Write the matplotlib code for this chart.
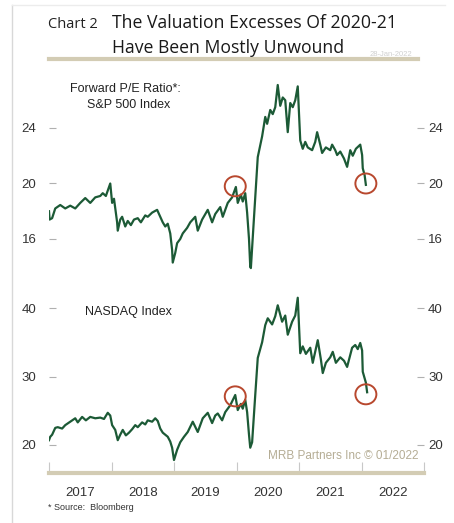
import matplotlib
matplotlib.use("Agg")
import matplotlib.pyplot as plt
from matplotlib.patches import Ellipse
import numpy as np

# -----------------------------
# Data (decimal year, value)
# -----------------------------
spYears = [
    2017.00, 2017.01, 2017.05, 2017.10, 2017.18, 2017.26, 2017.34, 2017.42, 2017.50, 2017.58,
    2017.66, 2017.74, 2017.82, 2017.86, 2017.91, 2017.98, 2018.01, 2018.04, 2018.09, 2018.10,
    2018.14, 2018.17, 2018.22, 2018.26, 2018.31, 2018.36, 2018.42, 2018.47, 2018.54, 2018.58,
    2018.65, 2018.73, 2018.78, 2018.82, 2018.86, 2018.90, 2018.94, 2018.97, 2018.98, 2019.02,
    2019.05, 2019.10, 2019.14, 2019.21, 2019.26, 2019.34, 2019.38, 2019.45, 2019.54, 2019.61,
    2019.66, 2019.74, 2019.78, 2019.86, 2019.93, 2019.99, 2020.02, 2020.07, 2020.10, 2020.14,
    2020.17, 2020.20, 2020.22, 2020.23, 2020.26, 2020.30, 2020.34, 2020.41, 2020.46, 2020.49,
    2020.54, 2020.58, 2020.62, 2020.66, 2020.70, 2020.74, 2020.78, 2020.82, 2020.86, 2020.90,
    2020.94, 2020.98, 2021.02, 2021.06, 2021.10, 2021.14, 2021.21, 2021.26, 2021.29, 2021.34,
    2021.37, 2021.43, 2021.50, 2021.53, 2021.58, 2021.61, 2021.66, 2021.72, 2021.77, 2021.82,
    2021.86, 2021.91, 2021.98, 2022.01, 2022.02, 2022.05, 2022.07,
]
spPE = [
    18.0, 17.4, 17.5, 18.2, 18.45, 18.2, 18.4, 18.2, 18.6, 18.95,
    18.6, 19.0, 19.1, 19.3, 19.1, 20.0, 18.6, 18.9, 17.2, 16.6,
    17.4, 17.6, 16.9, 17.3, 17.0, 17.4, 17.5, 17.2, 17.7, 17.6,
    17.9, 18.1, 17.6, 17.2, 16.9, 17.1, 16.4, 15.2, 14.3, 15.0,
    15.7, 16.0, 16.4, 16.8, 17.2, 17.6, 16.6, 17.4, 18.1, 17.2,
    17.8, 18.3, 17.6, 18.6, 19.0, 19.75, 18.6, 19.2, 18.7, 19.3,
    17.9, 16.0, 14.0, 13.9, 16.1, 19.0, 21.9, 23.4, 24.8, 24.3,
    25.3, 25.0, 25.5, 27.1, 25.6, 26.2, 26.0, 23.7, 25.8, 25.5,
    26.0, 27.0, 23.1, 22.5, 23.0, 22.6, 22.4, 23.0, 23.7, 22.8,
    22.2, 22.6, 22.4, 22.8, 22.4, 22.05, 22.3, 21.8, 21.2, 22.4,
    22.0, 22.5, 22.8, 22.05, 21.1, 20.6, 19.9,
]

ndqYears = [
    2017.00, 2017.02, 2017.05, 2017.10, 2017.14, 2017.21, 2017.26, 2017.34, 2017.42, 2017.46,
    2017.53, 2017.59, 2017.66, 2017.74, 2017.82, 2017.88, 2017.94, 2017.98, 2018.01, 2018.06,
    2018.10, 2018.14, 2018.18, 2018.23, 2018.28, 2018.33, 2018.38, 2018.42, 2018.49, 2018.54,
    2018.58, 2018.65, 2018.70, 2018.74, 2018.78, 2018.82, 2018.86, 2018.90, 2018.94, 2018.97,
    2019.00, 2019.05, 2019.10, 2019.16, 2019.22, 2019.30, 2019.38, 2019.46, 2019.54, 2019.61,
    2019.66, 2019.70, 2019.77, 2019.82, 2019.90, 2019.98, 2020.02, 2020.07, 2020.10, 2020.14,
    2020.17, 2020.20, 2020.22, 2020.25, 2020.30, 2020.34, 2020.41, 2020.46, 2020.50, 2020.57,
    2020.62, 2020.66, 2020.73, 2020.78, 2020.82, 2020.89, 2020.94, 2020.98, 2021.02, 2021.06,
    2021.11, 2021.18, 2021.22, 2021.30, 2021.35, 2021.38, 2021.43, 2021.50, 2021.54, 2021.59,
    2021.66, 2021.72, 2021.77, 2021.85, 2021.90, 2021.94, 2021.98, 2022.01, 2022.02, 2022.07,
    2022.09,
]
ndqPE = [
    20.7, 21.2, 21.5, 22.5, 22.6, 22.4, 22.9, 23.4, 23.9, 23.3,
    24.1, 23.6, 24.1, 23.9, 24.0, 23.8, 24.7, 24.3, 22.9, 22.2,
    20.7, 21.5, 22.2, 21.4, 21.8, 22.3, 22.9, 22.6, 23.3, 23.0,
    23.6, 23.4, 23.9, 23.5, 22.4, 21.8, 21.5, 21.2, 20.5, 19.6,
    17.8, 19.3, 20.4, 21.2, 21.9, 23.4, 21.9, 23.9, 24.7, 23.2,
    24.3, 24.6, 23.6, 24.8, 25.8, 27.3, 25.1, 26.0, 25.3, 26.6,
    24.8, 21.5, 19.6, 20.4, 27.3, 32.7, 35.0, 37.5, 38.5, 37.6,
    38.8, 40.4, 38.0, 38.9, 36.1, 38.0, 38.9, 41.5, 33.4, 34.4,
    33.3, 34.2, 32.0, 35.3, 32.5, 30.5, 32.0, 32.8, 33.6, 32.0,
    32.8, 32.3, 31.4, 34.2, 34.6, 34.0, 34.9, 33.8, 30.7, 29.1,
    27.7,
]

spTicks = [16, 20, 24]
ndqTicks = [20, 30, 40]
yearLabels = ["2017", "2018", "2019", "2020", "2021", "2022"]

# circled points (year, value) for each panel
spCircles = [(2019.98, 19.8), (2022.07, 20.0)]
ndqCircles = [(2019.98, 27.1), (2022.07, 27.4)]

lineColor = "#1c5a36"
circleColor = "#b8482e"
tanColor = "#d3ccb4"
textColor = "#333333"
tickColor = "#b0b0b0"

W, H = 454, 523


def figX(px):
    return px / W


def figY(py):
    return 1 - py / H


def styleAxis(ax, ticks, yLimits):
    for side in ["top", "bottom", "left", "right"]:
        ax.spines[side].set_visible(False)
    ax.set_ylim(*yLimits)
    ax.set_yticks(ticks)
    ax.tick_params(axis="y", direction="in", length=5, width=0.8, color=tickColor,
                   labelcolor=textColor, labelsize=9.5, pad=9)
    ax.set_xlim(2017, 2023)

    rightAx = ax.twinx()
    for side in ["top", "bottom", "left", "right"]:
        rightAx.spines[side].set_visible(False)
    rightAx.set_ylim(*yLimits)
    rightAx.set_yticks(ticks)
    rightAx.tick_params(axis="y", direction="in", length=5, width=0.8, color=tickColor,
                        labelcolor=textColor, labelsize=9.5, pad=3)


def addCircles(ax, points, yPerPx):
    for xValue, yValue in points:
        ax.add_patch(Ellipse((xValue, yValue), width=21 / 62.5, height=20 * yPerPx,
                             fill=False, edgecolor=circleColor, lw=1.4, zorder=4))


fig = plt.figure(figsize=(W / 100, H / 100), dpi=100)
plt.rcParams["font.family"] = ["Liberation Sans", "DejaVu Sans"]

# frame lines
fig.add_artist(plt.Line2D([figX(12), figX(12)], [0, figY(5)], color="#d8d8d8", lw=1))
fig.add_artist(plt.Line2D([figX(12), figX(445)], [figY(5), figY(5)], color="#ececec", lw=1))

# title block
titleFont = ["Open Sans", "DejaVu Sans"]
fig.text(figX(48), figY(28), "Chart 2", fontsize=10.5, color="#222222",
         family=titleFont, va="baseline")
fig.text(figX(112), figY(28), "The Valuation Excesses Of 2020-21", fontsize=12.7,
         color="#1a1a1a", family=titleFont, va="baseline")
fig.text(figX(112), figY(53), "Have Been Mostly Unwound", fontsize=12.7,
         color="#1a1a1a", family=titleFont, va="baseline")
fig.add_artist(plt.Line2D([figX(49), figX(418)], [figY(58.5), figY(58.5)],
                          color=tanColor, lw=3))
fig.text(figX(412), figY(56), "28-Jan-2022", fontsize=5.5, color="#d0d0d0",
         ha="right", va="baseline")

# upper panel: S&P 500 forward P/E
axTop = fig.add_axes([figX(49), figY(272), figX(424) - figX(49), figY(70) - figY(272)])
styleAxis(axTop, spTicks, (13.62, 28.18))
axTop.plot(spYears, spPE, color=lineColor, lw=1.6, zorder=3)
axTop.set_xticks([])
addCircles(axTop, spCircles, (28.18 - 13.62) / 202)
axTop.text(0.205, 0.905, "Forward P/E Ratio*:", transform=axTop.transAxes,
           ha="center", va="center", fontsize=9, color="#222222")
axTop.text(0.213, 0.825, "S&P 500 Index", transform=axTop.transAxes,
           ha="center", va="center", fontsize=9, color="#222222")

# lower panel: NASDAQ forward P/E
axBot = fig.add_axes([figX(49), figY(473), figX(424) - figX(49), figY(290) - figY(473)])
styleAxis(axBot, ndqTicks, (15.91, 42.63))
axBot.plot(ndqYears, ndqPE, color=lineColor, lw=1.6, zorder=3)
addCircles(axBot, ndqCircles, (42.63 - 15.91) / 183)
axBot.text(0.095, 0.88, "NASDAQ Index", transform=axBot.transAxes,
           ha="left", va="center", fontsize=9, color="#222222")
axBot.text(0.985, 0.095, "MRB Partners Inc \u00a9 01/2022", transform=axBot.transAxes,
           ha="right", va="center", fontsize=8.5, color="#b5ad95")

axBot.spines["bottom"].set_visible(True)
axBot.spines["bottom"].set_color(tanColor)
axBot.spines["bottom"].set_linewidth(3)
axBot.set_xticks(np.arange(2017, 2024))
axBot.set_xticklabels([])
axBot.set_xticks(np.arange(2017, 2023) + 0.5, minor=True)
axBot.set_xticklabels(yearLabels, minor=True)
axBot.tick_params(axis="x", which="major", direction="in", length=8, width=0.8,
                  color="#c8c8c8")
axBot.tick_params(axis="x", which="minor", length=0, labelsize=9.5,
                  labelcolor=textColor, pad=10)

fig.text(figX(48), figY(510), "* Source:  Bloomberg", fontsize=6.5, color="#333333")

fig.savefig("out.png", dpi=100)
